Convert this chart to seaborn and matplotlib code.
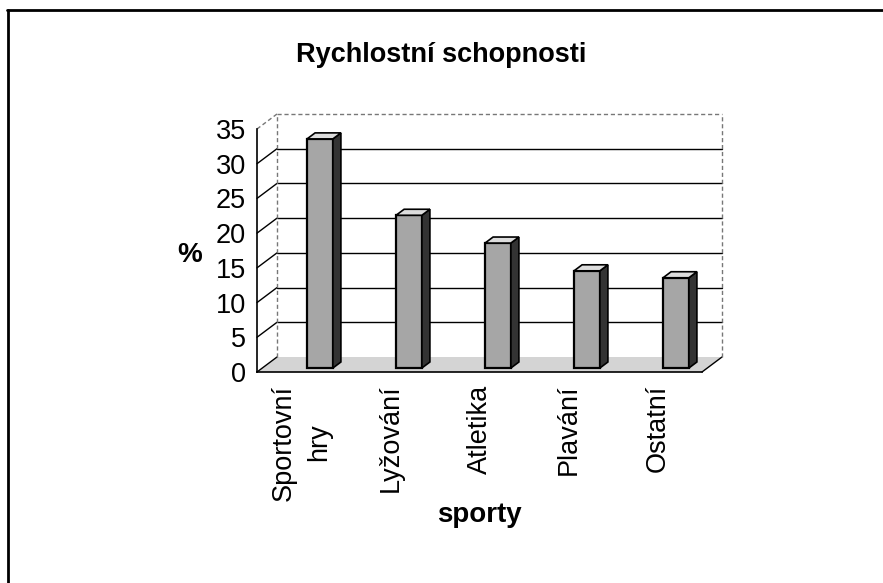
import numpy as np
import pandas as pd
import matplotlib
matplotlib.use("Agg")
import matplotlib.pyplot as plt
import seaborn as sns
from matplotlib.patches import Polygon
from matplotlib.lines import Line2D

sports = ["Sportovní\nhry", "Lyžování", "Atletika", "Plavání", "Ostatní"]
percent = [33, 22, 18, 14, 13]
yticks = [0, 5, 10, 15, 20, 25, 30, 35]

df = pd.DataFrame({"sport": sports, "pct": percent})

sns.set_style("white")
plt.rcParams["font.family"] = ["Liberation Sans", "DejaVu Sans"]
plt.rcParams["text.color"] = "black"

W, H = 883, 583
fig = plt.figure(figsize=(W / 100, H / 100), dpi=100)
ax = fig.add_axes([257 / W, 1 - 372 / H, 445 / W, 243 / H])
ax.set_facecolor("none")

sns.barplot(data=df, x="sport", y="pct", color="#a6a6a6", width=0.29,
            edgecolor="black", linewidth=1.6, saturation=1, ax=ax, zorder=5)
bars = list(ax.containers[0])
ax.set_xlim(-0.5, 4.5)
ax.set_ylim(0, 35)

# pixel sizes in data units
px = 5 / 445
py = 35 / 243
dxw, dyw = 20 * px, 15 * py   # depth of the back wall
dxb, dyb = 8 * px, 6 * py     # depth of a bar

# floor
ax.add_patch(Polygon([(-0.5, 0), (4.5, 0), (4.5 + dxw, dyw), (-0.5 + dxw, dyw)],
                     closed=True, facecolor="#d4d4d4", edgecolor="none",
                     clip_on=False, zorder=1))
ax.plot([4.5, 4.5 + dxw], [0, dyw], color="black", lw=1, clip_on=False, zorder=2)

# back wall + gridlines
for y in yticks[1:-1]:
    ax.plot([-0.5 + dxw, 4.5 + dxw], [y + dyw, y + dyw], color="black", lw=1,
            clip_on=False, zorder=2)
for y in yticks[:-1]:
    ax.plot([-0.5, -0.5 + dxw], [y, y + dyw], color="black", lw=1,
            clip_on=False, zorder=2)
top = yticks[-1]
wall_style = dict(color="#777777", lw=1, ls=(0, (3, 2)), clip_on=False, zorder=2)
ax.plot([-0.5, -0.5 + dxw], [top, top + dyw], **wall_style)
ax.plot([-0.5 + dxw, 4.5 + dxw], [top + dyw, top + dyw], **wall_style)
ax.plot([-0.5 + dxw, -0.5 + dxw], [dyw, top + dyw], **wall_style)
ax.plot([4.5 + dxw, 4.5 + dxw], [dyw, top + dyw], **wall_style)

# move bars into depth and add side / top faces
for bar in bars:
    x = bar.get_x() + 18.5 * px
    w = bar.get_width()
    h = bar.get_height()
    y0 = 4 * py
    bar.set_x(x)
    bar.set_y(y0)
    bar.set_clip_on(False)
    ax.add_patch(Polygon([(x + w, y0), (x + w, y0 + h), (x + w + dxb, y0 + h + dyb),
                          (x + w + dxb, y0 + dyb)], closed=True,
                         facecolor="#333333", edgecolor="black", lw=1.2,
                         clip_on=False, zorder=5))
    ax.add_patch(Polygon([(x, y0 + h), (x + w, y0 + h), (x + w + dxb, y0 + h + dyb),
                          (x + dxb, y0 + h + dyb)], closed=True,
                         facecolor="#dddddd", edgecolor="black", lw=1.2,
                         clip_on=False, zorder=5))

sns.despine(ax=ax, top=True, right=True)
for s in ["left", "bottom"]:
    ax.spines[s].set_color("black")
    ax.spines[s].set_linewidth(1.2)
    ax.spines[s].set_zorder(6)

ax.set_yticks(yticks)
ax.tick_params(axis="y", direction="out", length=5, width=1, color="black",
               labelsize=19.5, labelcolor="black", pad=3)
ax.set_xticks(range(len(sports)))
ax.set_xticklabels(sports, rotation=90, va="top", ha="center",
                   multialignment="center", linespacing=1.45)
ax.set_xticks(np.arange(-0.5, len(sports)), minor=True)
ax.tick_params(axis="x", which="major", length=0, labelsize=19.5,
               labelcolor="black", pad=9)
ax.tick_params(axis="x", which="minor", direction="out", length=5, width=1,
               color="black")
ax.set_xlabel("")
ax.set_ylabel("")

fig.text(441 / W, 1 - 55 / H, "Rychlostní schopnosti", ha="center", va="center",
         fontsize=19.5, fontweight="bold", color="black")
fig.text(190 / W, 1 - 255 / H, "%", ha="center", va="center",
         fontsize=20, fontweight="bold", color="black")
fig.text(479 / W, 1 - 515 / H, "sporty", ha="center", va="center",
         fontsize=20, fontweight="bold", color="black")

# scanned frame (top and left edges)
fig.add_artist(Line2D([7 / W, 1], [1 - 10 / H, 1 - 10 / H], color="black", lw=2))
fig.add_artist(Line2D([8 / W, 8 / W], [0, 1 - 10 / H], color="black", lw=2))

fig.savefig("out.png", dpi=100)
